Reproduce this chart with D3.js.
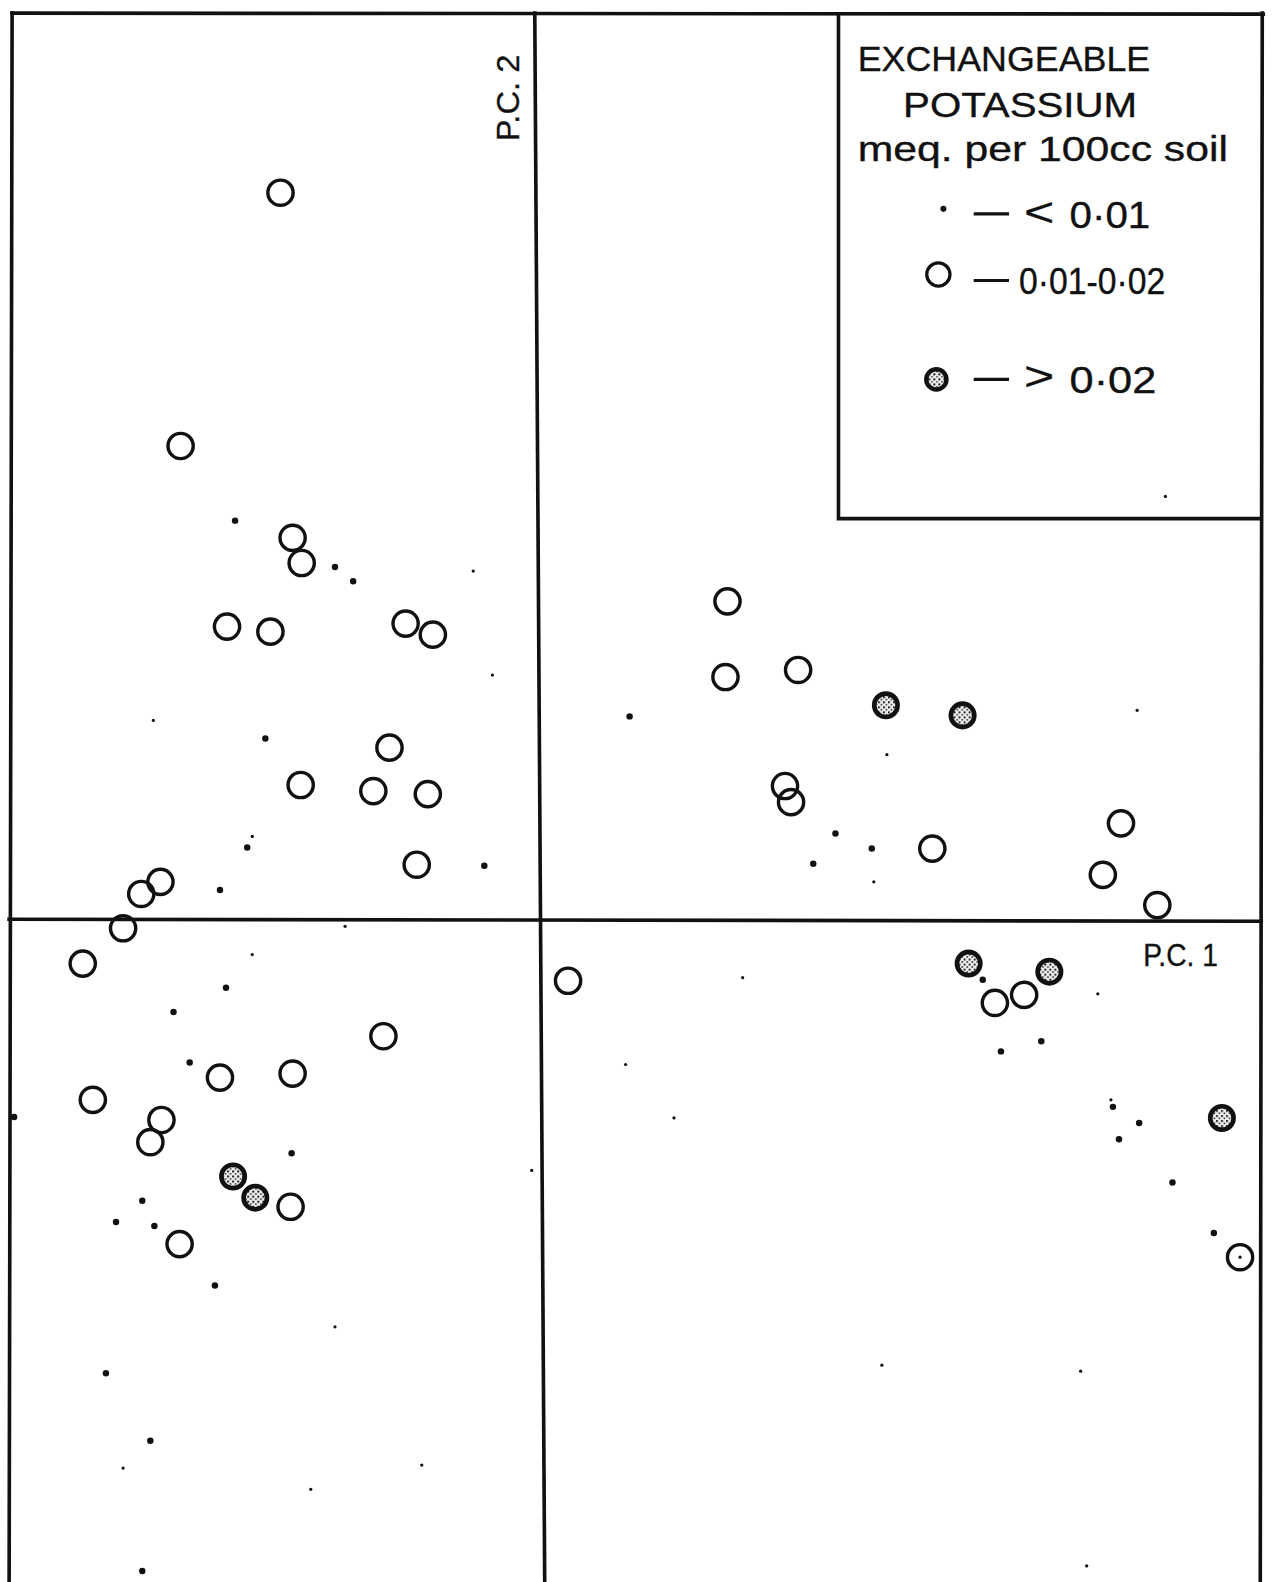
<!DOCTYPE html>
<html>
<head>
<meta charset="utf-8">
<script src="https://cdn.jsdelivr.net/npm/d3@7"></script>
<style>
  html, body { margin: 0; padding: 0; background: #fff; }
  svg { display: block; }
  text { font-family: "Liberation Sans", Arial, sans-serif; fill: #111; stroke: #111; stroke-width: 0.35px; }
</style>
</head>
<body>
<div id="chart"></div>
<script>
// ---- Data: principal component scores (PC1, PC2) grouped by exchangeable potassium class ----
// open circles: 0.01-0.02 meq per 100cc soil
const midK = [
  [-2.57, 7.21], [-3.56, 4.70], [-2.45, 3.79], [-2.36, 3.54], [-3.10, 2.91],
  [-2.67, 2.86], [-1.33, 2.94], [-1.06, 2.83], [-1.49, 1.71], [-2.37, 1.34],
  [-1.65, 1.28], [-1.11, 1.25], [-1.22, 0.55], [-3.76, 0.38], [-3.95, 0.26],
  [-4.13, -0.08],
  [-4.53, -0.43], [-1.55, -1.15], [-3.17, -1.56], [-2.45, -1.52], [-4.43, -1.78],
  [-3.75, -1.98], [-3.86, -2.20], [-2.47, -2.84], [-3.57, -3.21],
  [1.86, 3.16], [1.84, 2.41], [2.56, 2.48], [2.43, 1.33], [2.49, 1.17],
  [3.89, 0.71], [5.76, 0.96], [5.58, 0.45], [6.12, 0.15],
  [0.28, -0.60], [4.51, -0.82], [4.80, -0.74], [6.94, -3.34]
];
// stippled circles: > 0.02
const highK = [
  [-3.04, -2.54], [-2.82, -2.75], [3.43, 2.13], [4.19, 2.03],
  [4.25, -0.43], [5.05, -0.51], [6.76, -1.96]
];
// dots: < 0.01
const lowK = [
  [-3.02, 3.96], [-2.03, 3.50], [-1.85, 3.36], [-2.72, 1.80], [-2.90, 0.72],
  [-3.17, 0.30], [-0.55, 0.54],
  [0.89, 2.02], [2.93, 0.86], [3.29, 0.71], [2.71, 0.56],
  [-3.11, -0.67], [-3.63, -0.91], [-3.47, -1.41], [-5.21, -1.95], [-2.46, -2.31],
  [-3.94, -2.78], [-4.20, -2.99], [-3.82, -3.03], [-3.22, -3.62], [-4.30, -4.49],
  [-3.86, -5.16], [-3.94, -6.45],
  [4.39, -0.59], [4.57, -1.30], [4.97, -1.20], [5.68, -1.85], [5.74, -2.17],
  [5.94, -2.01], [6.27, -2.60], [6.68, -3.10]
];
// faint dots (< 0.01, printed smaller)
const lowKFaint = [
  [-0.66, 3.46], [-0.47, 2.43], [-3.83, 1.98], [-2.85, 0.83],
  [3.44, 1.64], [3.31, 0.38], [5.92, 2.08], [6.20, 4.20],
  [-2.85, -0.34], [-1.93, -0.06], [-0.08, -2.48], [-2.03, -4.03], [-4.13, -5.43],
  [-2.27, -5.64], [-1.17, -5.40],
  [2.01, -0.57], [0.85, -1.43], [1.33, -1.96], [5.53, -0.73], [5.66, -1.78],
  [3.39, -4.41], [5.36, -4.47], [5.42, -6.40], [6.94, -3.34]
];
const axisLabels = ["P.C. 1", "P.C. 2"];
const legendTitle = ["EXCHANGEABLE", "POTASSIUM", "meq. per 100cc soil"];
const legendClasses = [
  { sym: "<", label: "0·01" },
  { sym: "", label: "0·01-0·02" },
  { sym: ">", label: "0·02" }
];

// ---- Layout ----
const W = 1273, H = 1582;
const svg = d3.select("#chart").append("svg").attr("width", W).attr("height", H);
svg.append("rect").attr("width", W).attr("height", H).attr("fill", "#fff");

const defs = svg.append("defs");
const pat = defs.append("pattern").attr("id", "stipple").attr("patternUnits", "userSpaceOnUse")
  .attr("width", 5).attr("height", 5);
pat.append("rect").attr("width", 5).attr("height", 5).attr("fill", "#eeeeee");
pat.append("circle").attr("cx", 1).attr("cy", 1).attr("r", 1.15).attr("fill", "#222");
pat.append("circle").attr("cx", 3.6).attr("cy", 3.4).attr("r", 0.95).attr("fill", "#333");

const root = svg.append("g").attr("transform", "scale(1.009)");

const x = d3.scaleLinear().domain([-5, 7]).range([35, 1235]);
const y = d3.scaleLinear().domain([-6, 9]).range([1512, 12]);

const frame = { x0: -5.23, x1: 7.15, y0: -6.8, y1: 8.99 };
const g = root.append("g").attr("stroke", "#111").attr("stroke-width", 3.6).attr("fill", "none").attr("stroke-linecap", "square");

// outer frame (top, left, right)
g.append("line").attr("x1", x(frame.x0)).attr("y1", y(frame.y1)).attr("x2", x(frame.x1) + 2).attr("y2", y(frame.y1) + 1);
g.append("line").attr("x1", x(frame.x0)).attr("y1", y(frame.y1)).attr("x2", x(frame.x0 - 0.03)).attr("y2", y(frame.y0));
g.append("line").attr("x1", x(frame.x1) + 1).attr("y1", y(frame.y1)).attr("x2", x(frame.x1 - 0.01)).attr("y2", y(frame.y0));
// axes through origin (slight skew of the printed original)
g.append("line").attr("x1", x(-0.05)).attr("y1", y(frame.y1)).attr("x2", x(0.05)).attr("y2", y(frame.y0));
g.append("line").attr("x1", x(frame.x0 - 0.03)).attr("y1", y(0.01)).attr("x2", x(frame.x1)).attr("y2", y(-0.01));

// legend box
const L = { x0: 831, y0: 14, x1: 1250, y1: 514 };
g.append("polyline").attr("points", `${L.x0},${L.y0} ${L.x0},${L.y1} ${L.x1},${L.y1}`);

// ---- Marks ----
const pts = root.append("g");
pts.selectAll("circle.faint").data(lowKFaint).join("circle").attr("class", "faint")
  .attr("cx", d => x(d[0])).attr("cy", d => y(d[1])).attr("r", 1.6).attr("fill", "#111");
pts.selectAll("circle.low").data(lowK).join("circle").attr("class", "low")
  .attr("cx", d => x(d[0])).attr("cy", d => y(d[1])).attr("r", 3.2).attr("fill", "#111");
pts.selectAll("circle.mid").data(midK).join("circle").attr("class", "mid")
  .attr("cx", d => x(d[0])).attr("cy", d => y(d[1])).attr("r", 12.5)
  .attr("fill", "none").attr("stroke", "#111").attr("stroke-width", 3.4);
pts.selectAll("circle.high").data(highK).join("circle").attr("class", "high")
  .attr("cx", d => x(d[0])).attr("cy", d => y(d[1])).attr("r", 11.6)
  .attr("fill", "url(#stipple)").attr("stroke", "#111").attr("stroke-width", 4.6);

// ---- Axis labels ----
root.append("text").attr("x", 1133).attr("y", 957)
  .attr("font-size", 32).attr("textLength", 74).attr("lengthAdjust", "spacingAndGlyphs")
  .text(axisLabels[0]);
root.append("text").attr("transform", "translate(514,140) rotate(-90)")
  .attr("font-size", 32).attr("textLength", 86).attr("lengthAdjust", "spacingAndGlyphs")
  .text(axisLabels[1]);

// ---- Legend ----
const lg = root.append("g");
lg.append("text").attr("x", 850).attr("y", 70).attr("font-size", 35)
  .attr("textLength", 290).attr("lengthAdjust", "spacingAndGlyphs").text(legendTitle[0]);
lg.append("text").attr("x", 895).attr("y", 116).attr("font-size", 35)
  .attr("textLength", 232).attr("lengthAdjust", "spacingAndGlyphs").text(legendTitle[1]);
lg.append("text").attr("x", 850).attr("y", 160).attr("font-size", 34)
  .attr("textLength", 367).attr("lengthAdjust", "spacingAndGlyphs").text(legendTitle[2]);

const rows = [
  { cy: 212, base: 226, symX: 935, dash: [965, 1000], sx: 1015, lx: 1060, lw: 80 },
  { cy: 278, base: 291, symX: 930, dash: [965, 1000], sx: null, lx: 1010, lw: 145 },
  { cy: 376, base: 389, symX: 928, dash: [965, 1000], sx: 1015, lx: 1060, lw: 86 }
];
rows.forEach((r, i) => {
  if (i === 0) lg.append("circle").attr("cx", r.symX).attr("cy", r.cy - 5).attr("r", 3).attr("fill", "#111");
  if (i === 1) lg.append("circle").attr("cx", r.symX).attr("cy", r.cy - 6).attr("r", 11.5)
    .attr("fill", "none").attr("stroke", "#111").attr("stroke-width", 3.2);
  if (i === 2) lg.append("circle").attr("cx", r.symX).attr("cy", r.cy).attr("r", 10)
    .attr("fill", "url(#stipple)").attr("stroke", "#111").attr("stroke-width", 4.4);
  lg.append("line").attr("x1", r.dash[0]).attr("x2", r.dash[1]).attr("y1", r.cy).attr("y2", r.cy)
    .attr("stroke", "#111").attr("stroke-width", 3.2);
  if (r.sx !== null) lg.append("text").attr("x", r.sx).attr("y", r.base - 2).attr("font-size", 40)
    .attr("textLength", 30).attr("lengthAdjust", "spacingAndGlyphs")
    .text(legendClasses[i].sym);
  lg.append("text").attr("x", r.lx).attr("y", r.base).attr("font-size", 36)
    .attr("textLength", r.lw).attr("lengthAdjust", "spacingAndGlyphs").text(legendClasses[i].label);
});
</script>
</body>
</html>
